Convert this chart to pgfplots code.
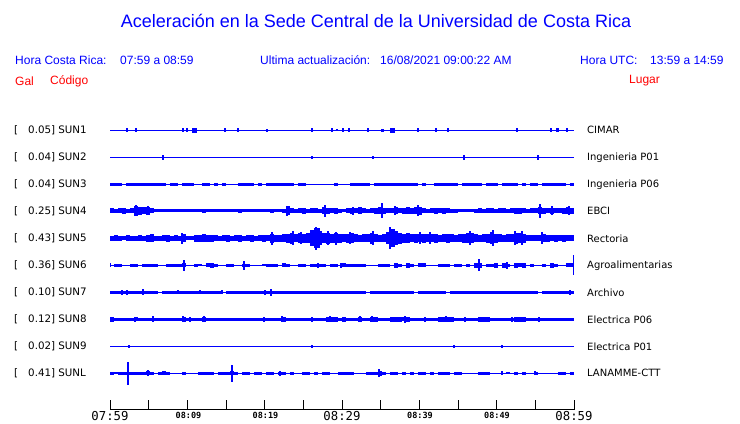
\documentclass[border=0pt]{standalone}
\usepackage{fontspec}
\setmainfont{Liberation Sans}
\newfontfamily\dv{DejaVu Sans}
\newfontfamily\dvm{DejaVu Sans Mono}
\usepackage{pgfplots}
\pgfplotsset{compat=1.18}
\definecolor{tb}{RGB}{0,0,255}
\definecolor{tr}{RGB}{255,0,0}
\newcommand{\fs}[1]{\fontsize{#1}{#1}\selectfont}
\pgfplotsset{
  grid4/.style={draw=none, mark=none,
    error bars/.cd, y dir=both, y explicit, error mark=none,
    error bar style={draw=tb, line width=4.2pt}},
  spk/.style={draw=none, mark=none,
    error bars/.cd, y dir=both, y explicit, error mark=none,
    error bar style={draw=tb, line width=1.2pt}},
}
\begin{document}
\begin{tikzpicture}
\begin{axis}[x=1pt,y=1pt,y dir=reverse,xmin=0,xmax=740,ymin=0,ymax=423,
  hide axis,clip=false,scale only axis,anchor=north west,at={(0,0)}]
\path (axis cs:0,0) rectangle (axis cs:740,423);
% ---- titles
\node[text=tb,font=\fs{18}] at (axis cs:376,21) {Aceleración en la Sede Central de la Universidad de Costa Rica};
\node[text=tb,font=\fs{12},anchor=west,inner sep=0] at (axis cs:15,60) {Hora Costa Rica:};
\node[text=tb,font=\fs{12},anchor=west,inner sep=0] at (axis cs:120,60) {07:59 a 08:59};
\node[text=tb,font=\fs{12},anchor=west,inner sep=0] at (axis cs:260,60) {Ultima actualización:};
\node[text=tb,font=\fs{12},anchor=west,inner sep=0] at (axis cs:380,60) {16/08/2021 09:00:22 AM};
\node[text=tb,font=\fs{12},anchor=west,inner sep=0] at (axis cs:580,60) {Hora UTC:};
\node[text=tb,font=\fs{12},anchor=west,inner sep=0] at (axis cs:650,60) {13:59 a 14:59};
\node[text=tr,font=\fs{12},anchor=west,inner sep=0] at (axis cs:15,81) {Gal};
\node[text=tr,font=\fs{12},anchor=west,inner sep=0] at (axis cs:50,81) {Código};
\node[text=tr,font=\fs{12},anchor=west,inner sep=0] at (axis cs:629,81) {Lugar};
% ---- left labels
\pgfplotsinvokeforeach{130.3,157.3,184.3,211.3,238.3,265.3,292.3,319.3,346.3,373.3}{
  \node[font=\dv\fs{10.3},anchor=west,inner sep=0] at (axis cs:14,#1) {[};}
\node[font=\dv\fs{10.3},anchor=west,inner sep=0] at (axis cs:28,130.3) {0.05] SUN1};
\node[font=\dv\fs{10.3},anchor=west,inner sep=0] at (axis cs:28,157.3) {0.04] SUN2};
\node[font=\dv\fs{10.3},anchor=west,inner sep=0] at (axis cs:28,184.3) {0.04] SUN3};
\node[font=\dv\fs{10.3},anchor=west,inner sep=0] at (axis cs:28,211.3) {0.25] SUN4};
\node[font=\dv\fs{10.3},anchor=west,inner sep=0] at (axis cs:28,238.3) {0.43] SUN5};
\node[font=\dv\fs{10.3},anchor=west,inner sep=0] at (axis cs:28,265.3) {0.36] SUN6};
\node[font=\dv\fs{10.3},anchor=west,inner sep=0] at (axis cs:28,292.3) {0.10] SUN7};
\node[font=\dv\fs{10.3},anchor=west,inner sep=0] at (axis cs:28,319.3) {0.12] SUN8};
\node[font=\dv\fs{10.3},anchor=west,inner sep=0] at (axis cs:28,346.3) {0.02] SUN9};
\node[font=\dv\fs{10.3},anchor=west,inner sep=0] at (axis cs:28,373.3) {0.41] SUNL};
% ---- right labels
\node[font=\dv\fs{10},anchor=west,inner sep=0] at (axis cs:587,130.3) {CIMAR};
\node[font=\dv\fs{10},anchor=west,inner sep=0] at (axis cs:587,157.3) {Ingenieria P01};
\node[font=\dv\fs{10},anchor=west,inner sep=0] at (axis cs:587,184.3) {Ingenieria P06};
\node[font=\dv\fs{10},anchor=west,inner sep=0] at (axis cs:587,211.3) {EBCI};
\node[font=\dv\fs{10},anchor=west,inner sep=0] at (axis cs:587,238.3) {Rectoria};
\node[font=\dv\fs{10},anchor=west,inner sep=0] at (axis cs:587,265.3) {Agroalimentarias};
\node[font=\dv\fs{10},anchor=west,inner sep=0] at (axis cs:587,292.3) {Archivo};
\node[font=\dv\fs{10},anchor=west,inner sep=0] at (axis cs:587,319.3) {Electrica P06};
\node[font=\dv\fs{10},anchor=west,inner sep=0] at (axis cs:587,346.3) {Electrica P01};
\node[font=\dv\fs{10},anchor=west,inner sep=0] at (axis cs:587,373.3) {LANAMME-CTT};
% ---- time axis
\draw[black,line width=1pt] (axis cs:110,409) -- (axis cs:574,409);
\pgfplotsinvokeforeach{110,148.67,187.33,226,264.67,303.33,342,380.67,419.33,458,496.67,535.33,574}{
  \draw[black,line width=1pt] (axis cs:#1,400) -- (axis cs:#1,409.5);}
\node[font=\dvm\fs{12.3}] at (axis cs:110,416) {07:59};
\node[font=\dvm\fs{12.3}] at (axis cs:342,416) {08:29};
\node[font=\dvm\fs{12.3}] at (axis cs:574,416) {08:59};
\node[font=\dvm\bfseries\fs{8.5}] at (axis cs:188.5,415.5) {08:09};
\node[font=\dvm\bfseries\fs{8.5}] at (axis cs:265.5,415.5) {08:19};
\node[font=\dvm\bfseries\fs{8.5}] at (axis cs:420,415.5) {08:39};
\node[font=\dvm\bfseries\fs{8.5}] at (axis cs:497,415.5) {08:49};
% ---- baselines
\addplot[tb,line width=1pt] coordinates {(110,130.3) (574,130.3)};
\addplot[tb,line width=1pt] coordinates {(110,157.3) (574,157.3)};
\addplot[tb,line width=1pt] coordinates {(110,184.3) (574,184.3)};
\addplot[tb,line width=1pt] coordinates {(110,210.7) (574,210.7)};
\addplot[tb,line width=1pt] coordinates {(110,238.3) (574,238.3)};
\addplot[tb,line width=1pt] coordinates {(110,265.3) (574,265.3)};
\addplot[tb,line width=1pt] coordinates {(110,292.3) (574,292.3)};
\addplot[tb,line width=1pt] coordinates {(110,319.3) (574,319.3)};
\addplot[tb,line width=1pt] coordinates {(110,346.3) (574,346.3)};
\addplot[tb,line width=1pt] coordinates {(110,373.3) (574,373.3)};
% ---- SUN3 envelope (half-height, px, 4 px cells from 110)
\addplot[grid4] table[row sep=\\, x expr=112+4*\coordindex, y expr=184.3, y error=a] {a\\
1.6\\1.6\\1.6\\0.5\\1.6\\1.6\\1.6\\1.6\\1.6\\1.6\\
1.6\\1.6\\1.6\\1.6\\0.5\\1.6\\1.6\\0.5\\1.6\\1.6\\
1.6\\0.5\\0.5\\1.6\\1.6\\0.5\\1.6\\0.5\\1.6\\0.5\\
0.5\\0.5\\1.6\\1.6\\1.6\\1.6\\0.5\\1.6\\0.5\\1.6\\
1.6\\1.6\\1.6\\1.6\\1.6\\1.6\\0.5\\1.6\\1.6\\0.5\\
0.5\\0.5\\0.5\\0.5\\0.5\\0.5\\1.6\\0.5\\0.5\\0.5\\
1.6\\1.6\\1.6\\1.6\\1.6\\0.5\\1.6\\1.6\\1.6\\1.6\\
1.6\\1.6\\1.6\\1.6\\1.6\\1.6\\1.6\\0.5\\1.6\\0.5\\
0.5\\1.6\\1.6\\1.6\\1.6\\1.6\\1.6\\0.5\\1.6\\1.6\\
1.6\\1.6\\1.6\\0.5\\1.6\\1.6\\1.6\\0.5\\1.6\\1.6\\
1.6\\1.6\\0.5\\1.6\\0.5\\1.6\\1.6\\0.5\\1.6\\1.6\\
1.6\\1.6\\1.6\\1.6\\0.5\\1.6\\};
% ---- SUN4
\addplot[grid4] table[row sep=\\, x expr=112+4*\coordindex, y expr=210.7, y error=a] {a\\
2.5\\2\\2.5\\3\\2\\2.5\\5\\4\\3.5\\4\\
2.5\\1.3\\1.3\\1.3\\1.3\\1.3\\1.3\\1.3\\1.3\\1.3\\
1.3\\1.3\\1.3\\1.8\\1.3\\1.3\\1.3\\1.3\\1.3\\1.3\\
1.3\\1.3\\1.8\\1.3\\1.3\\1.6\\1.3\\1.3\\1.3\\1.3\\
1.8\\1.3\\1.3\\2\\4.5\\2.5\\2\\2.5\\3\\2\\
2.5\\2.5\\2\\3.5\\3\\2.5\\3\\2\\1.5\\2.5\\
3\\2.5\\3.5\\2.5\\2\\2.5\\3\\3.5\\3\\2.5\\
2.5\\3.5\\2.5\\3\\3.5\\3\\3.5\\4\\2.5\\2\\
2.5\\3\\2.5\\3\\2.5\\2\\1.8\\1.5\\1.5\\1.5\\
1.5\\1.8\\2.5\\2\\2.5\\2.5\\2\\2.5\\2.5\\2\\
2.5\\3\\3\\2.5\\2\\2.5\\2.5\\3.5\\3\\2.5\\
3\\2.5\\2.5\\3\\3.5\\3\\};
% ---- SUN5
\addplot[grid4] table[row sep=\\, x expr=112+4*\coordindex, y expr=238.3, y error=a] {a\\
2.5\\3\\2.5\\2\\3\\2.5\\2.5\\3\\2.5\\3.5\\
4\\2.5\\2.5\\3\\3.5\\2.5\\3\\2.5\\4\\2\\
2\\3.5\\3.5\\4\\3.5\\3.5\\3\\2.5\\3\\3.5\\
2.5\\3\\3.5\\2.5\\3\\3.5\\2.5\\3\\3.5\\3\\
4.5\\3.5\\3.5\\4\\4.5\\5.5\\4\\5\\4.5\\5\\
8\\10\\7\\5\\5.5\\4.5\\5\\4.5\\4\\4.5\\
5\\4\\3.5\\4\\4\\5.5\\4\\3.5\\4\\6\\
9\\7\\5.5\\4.5\\5\\4\\4.5\\4\\4.5\\4\\
4\\4.5\\3.5\\4\\4.5\\4\\3.5\\4\\4.5\\5\\
5\\4\\3.5\\4\\4.5\\6\\4.5\\4\\3.5\\4\\
4\\5.5\\5\\4.5\\3\\3\\3\\3\\4\\3.5\\
3\\3.5\\3\\3.5\\3\\3\\};
% ---- SUN6
\addplot[grid4] table[row sep=\\, x expr=112+4*\coordindex, y expr=265.3, y error=a] {a\\
0.5\\1.2\\1.5\\0.5\\0.5\\1.5\\1.5\\0.5\\1.5\\1.5\\
1.5\\1.5\\0.5\\0.5\\1.5\\1.5\\1.5\\1.5\\2\\0.5\\
0.5\\1.2\\1\\0.5\\2\\2.5\\1.5\\0.5\\0.5\\1.5\\
1.5\\0.5\\0.5\\1.5\\1.5\\0.5\\0.5\\0.5\\1\\1.5\\
1.5\\1.5\\0.5\\2\\1.5\\0.5\\0.5\\1.5\\1.5\\0.5\\
1.5\\1.5\\1.5\\1.5\\0.5\\1.5\\1.5\\0.5\\2\\1.5\\
1.5\\1.5\\1.5\\1.2\\0.5\\0.5\\0.5\\1.5\\1.5\\1.5\\
0.5\\2.5\\1.5\\0.5\\2.5\\1.5\\0.5\\2\\2\\0.5\\
0.5\\0.5\\1.5\\1.5\\1.5\\0.5\\1.5\\1.5\\0.5\\1.5\\
0.5\\2.5\\2.5\\0.5\\1.5\\1.5\\2.5\\0.5\\2.5\\1.5\\
0.5\\2.5\\2\\2.5\\0.5\\1.5\\0.5\\0.5\\1.2\\0.5\\
2.5\\1.5\\0.5\\0.5\\2\\2\\};
% ---- SUN7
\addplot[grid4] table[row sep=\\, x expr=112+4*\coordindex, y expr=292.3, y error=a] {a\\
1.5\\1.5\\1.5\\1.8\\1.5\\1.5\\1.5\\1.5\\1.8\\1.5\\
1.5\\1.5\\0.5\\1.5\\1.5\\1.5\\1.5\\1.5\\1.5\\1.5\\
1.5\\1.5\\1.5\\1.5\\1.5\\1.5\\1.5\\1.5\\0.5\\1.5\\
1.5\\1.5\\1.5\\1.5\\1.5\\1.5\\1.5\\1.5\\1.5\\1.5\\
1.5\\1.5\\1.5\\1.5\\1.5\\1.5\\1.5\\1.5\\1.5\\1.5\\
1.5\\1.5\\1.5\\1.5\\1.8\\1.5\\1.5\\1.5\\1.5\\1.5\\
1.5\\1.5\\1.5\\1.5\\0.5\\1.5\\1.5\\1.5\\1.5\\1.5\\
1.5\\1.5\\1.5\\1.5\\1.5\\1.5\\0.5\\1.5\\1.5\\1.5\\
1.5\\1.5\\1.5\\1.5\\0.5\\1.5\\1.5\\1.5\\1.5\\1.5\\
1.5\\1.5\\1.5\\1.5\\1.5\\1.5\\1.5\\1.5\\1.5\\1.5\\
1.5\\1.5\\1.5\\1.5\\1.5\\1.5\\1.5\\0.5\\1.5\\1.5\\
1.5\\1.5\\1.2\\1.5\\1.5\\1.5\\};
% ---- SUN8
\addplot[grid4] table[row sep=\\, x expr=112+4*\coordindex, y expr=319.3, y error=a] {a\\
2.5\\1.8\\1.8\\1.8\\1.8\\1.8\\2\\1.8\\1.8\\1.8\\
1.8\\1.8\\1.8\\1.8\\1.8\\1.8\\1.8\\1.8\\2.3\\1.8\\
1.8\\1.8\\1.8\\2.3\\1.8\\1.8\\1.8\\1.8\\1.8\\1.8\\
1.8\\1.8\\1.8\\1.8\\1.8\\1.8\\1.8\\1.8\\1.8\\1.8\\
1.8\\1.8\\1.8\\2.2\\1.8\\1.8\\1.8\\1.8\\1.8\\1.8\\
1.8\\1.8\\1.8\\1.8\\2.2\\2.3\\2.2\\1.8\\2.3\\1.8\\
1.8\\1.8\\2.3\\1.8\\1.8\\2.3\\2.5\\1.8\\1.8\\1.8\\
2.2\\2.3\\2.2\\2\\2.2\\1.8\\1.8\\1.8\\1.8\\1.8\\
1.8\\1.8\\2.3\\2.2\\2.3\\2.3\\1.8\\1.8\\1.8\\1.8\\
1.8\\1.8\\2.3\\2.2\\2.3\\1.8\\1.8\\1.8\\1.8\\1.8\\
1.8\\2.2\\2.3\\2.2\\1.8\\1.8\\1.8\\1.8\\1.8\\1.8\\
1.8\\1.8\\1.8\\1.8\\1.8\\1.8\\};
% ---- SUNL
\addplot[grid4] table[row sep=\\, x expr=112+4*\coordindex, y expr=373.3, y error=a] {a\\
1.5\\1\\1.5\\1.5\\1.5\\1.5\\1.5\\1.2\\1.5\\2\\
1.2\\0.5\\1.5\\2\\1.5\\0.5\\0.5\\0.5\\1.2\\0.5\\
0.5\\0.5\\1.5\\1.5\\1.2\\1.5\\0.5\\1.5\\1.5\\1.5\\
2\\1.5\\0.5\\1.5\\1.5\\0.5\\1.5\\1.5\\0.5\\1.5\\
1.5\\0.5\\1.5\\1.5\\0.5\\1.5\\0.5\\0.5\\1.5\\1.5\\
0.5\\1.5\\0.5\\1.5\\1.5\\0.5\\0.5\\1.5\\1.5\\1.5\\
1.5\\0.5\\0.5\\0.5\\1.5\\1.2\\1.5\\2.5\\1.5\\0.5\\
1.5\\1.5\\0.5\\1.5\\0.5\\1.5\\0.5\\1.5\\1.5\\0.5\\
1.5\\0.5\\1.5\\1.5\\1.5\\0.5\\1.5\\1.5\\0.5\\0.5\\
0.5\\0.5\\1.5\\1.5\\1.5\\0.5\\0.5\\0.5\\0.5\\1\\
0.5\\1.5\\0.5\\1.5\\0.5\\0.5\\1.5\\0.5\\0.5\\0.5\\
0.5\\0.5\\1.5\\1.5\\0.5\\1.5\\};
% ---- sharp spikes (x, baseline, half-height)
\addplot[spk] table[row sep=\\, y error=e] {x y e\\
127 130.3 2\\ 136 130.3 2\\ 183 130.3 2\\ 187 130.3 2\\ 193 130.3 2.3\\ 194.5 130.3 2.3\\ 196 130.3 2.3\\
225 130.3 2\\ 238 130.3 2\\ 267 130.3 1.2\\ 312 130.3 2\\ 332 130.3 2\\ 337 130.3 1\\ 343 130.3 2\\
349 130.3 2\\ 368 130.3 2\\ 382 130.3 1.5\\ 383.5 130.3 1.5\\ 391 130.3 2.3\\ 392.5 130.3 2.3\\ 394 130.3 2.3\\
418 130.3 2\\ 436 130.3 2\\ 448 130.3 2\\ 517 130.3 2\\ 551 130.3 2\\ 557 130.3 2\\ 558.5 130.3 2\\ 567 130.3 2\\
163 157.3 2.5\\ 312 157.3 1.5\\ 373 157.3 1.2\\ 464 157.3 2.5\\ 538 157.3 2.5\\
136 210.7 5.5\\ 148 210.7 4.5\\ 287 210.7 5\\ 325 210.7 6\\ 353 210.7 3.8\\ 382 210.7 7.5\\ 395 210.7 4.5\\
418 210.7 5.5\\ 540 210.7 7\\ 552 210.7 4.5\\ 569 210.7 4.5\\
182 238.3 5.3\\ 272 238.3 6.5\\ 293 238.3 7\\ 301 238.3 6\\ 316 238.3 11.5\\ 319 238.3 10\\ 328 238.3 7\\
336 238.3 6.5\\ 350 238.3 6\\ 373 238.3 7\\ 390 238.3 11\\ 394 238.3 9\\ 420 238.3 6\\ 430 238.3 6\\
470 238.3 7\\ 493 238.3 8\\ 515 238.3 7\\ 522 238.3 7\\ 542 238.3 6\\
110.5 265.3 2\\ 184 265.3 5.5\\ 244 265.3 4.5\\ 318 265.3 2.5\\ 341 265.3 2.5\\ 479 265.3 6\\ 507 265.3 3.5\\ 573.5 265.3 10\\
122 292.3 2.5\\ 127 292.3 2.5\\ 143 292.3 3\\ 178 292.3 2\\ 200 292.3 2\\ 222 292.3 2\\ 265 292.3 2.5\\ 271 292.3 3.5\\ 570 292.3 2.5\\
135 319.3 2.5\\ 153 319.3 3\\ 183 319.3 3\\ 190 319.3 2.5\\ 204 319.3 3\\ 264 319.3 2.5\\ 282 319.3 3\\
312 319.3 2.5\\ 330 319.3 3\\ 334 319.3 2.5\\ 360 319.3 3\\ 372 319.3 3\\ 405 319.3 3.5\\ 425 319.3 2.5\\
446 319.3 3\\ 465 319.3 2.5\\ 512 319.3 2.5\\ 539 319.3 2.5\\
129 346.3 1.2\\ 312 346.3 1.5\\ 454 346.3 1.2\\ 502 346.3 1.2\\
128 373.3 11.5\\ 148 373.3 3\\ 232 373.3 8.5\\ 280 373.3 2.5\\ 379 373.3 4\\ 502 373.3 2\\ 535 373.3 2\\
};
\end{axis}
\end{tikzpicture}
\end{document}
